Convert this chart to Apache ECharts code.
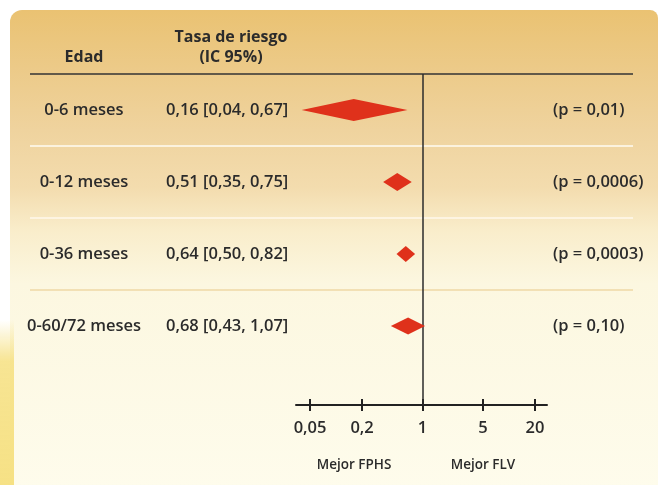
<!DOCTYPE html>
<html>
<head>
<meta charset="utf-8">
<style>
  html, body { margin: 0; padding: 0; background: #ffffff; }
  #chart { width: 660px; height: 485px; }
</style>
<script src="https://cdn.jsdelivr.net/npm/echarts@6/dist/echarts.min.js"></script>
</head>
<body>
<div id="chart"></div>
<script>
// Forest plot: hazard ratio by age window, log scale
const ages = ['0-6 meses', '0-12 meses', '0-36 meses', '0-60/72 meses'];
const hazardRatio = [0.16, 0.51, 0.64, 0.68];
const ciLow = [0.04, 0.35, 0.50, 0.43];
const ciHigh = [0.67, 0.75, 0.82, 1.07];
const pValues = ['0,01', '0,0006', '0,0003', '0,10'];
const tickValues = [0.05, 0.2, 1, 5, 20];

const FONT = '"Open Sans", "Noto Sans", sans-serif';
const INK = '#2b2b2b';
const RED = '#df311b';

const comma = v => String(v).replace('.', ',');
const fix2 = v => v.toFixed(2).replace('.', ',');

const hrLabels = hazardRatio.map((v, i) => `${fix2(v)} [${fix2(ciLow[i])}, ${fix2(ciHigh[i])}]`);
const pLabels = pValues.map(p => `(p = ${p})`);
const diamonds = hazardRatio.map((v, i) => [i, v, ciLow[i], ciHigh[i]]);

// half heights of each diamond glyph (styling only)
const diamondHalf = [11, 9, 8, 8.5];

const chart = echarts.init(document.getElementById('chart'), null, { renderer: 'canvas' });

const rowLabel = {
  fontFamily: FONT, fontWeight: 600, fontSize: 16.5, color: INK
};

const option = {
  animation: false,
  backgroundColor: 'transparent',
  graphic: [
    {
      type: 'rect', z: -10, silent: true,
      shape: { x: 10, y: 10, width: 648, height: 480, r: [12, 8, 0, 0] },
      style: {
        fill: new echarts.graphic.LinearGradient(0, 0, 0, 1, [
          { offset: 0, color: '#eac272' },
          { offset: 0.12, color: '#ecca88' },
          { offset: 0.25, color: '#efd39e' },
          { offset: 0.37, color: '#f3dcae' },
          { offset: 0.46, color: '#f9edcb' },
          { offset: 0.57, color: '#fcf7e0' },
          { offset: 1, color: '#fefcec' }
        ])
      }
    },
    {
      type: 'rect', z: -9, silent: true,
      shape: { x: 0, y: 320, width: 14, height: 165 },
      style: {
        fill: new echarts.graphic.LinearGradient(0, 0, 0, 1, [
          { offset: 0, color: 'rgba(245,222,120,0)' },
          { offset: 0.25, color: 'rgba(245,222,120,0.8)' },
          { offset: 1, color: 'rgba(245,222,120,0.9)' }
        ])
      }
    },
    {
      type: 'text', x: 84, y: 57,
      style: { text: 'Edad', align: 'center', verticalAlign: 'middle',
               font: `700 16px ${FONT}`, fill: INK }
    },
    {
      type: 'text', x: 231, y: 37,
      style: { text: 'Tasa de riesgo', align: 'center', verticalAlign: 'middle',
               font: `700 16px ${FONT}`, fill: INK }
    },
    {
      type: 'text', x: 231, y: 57,
      style: { text: '(IC 95%)', align: 'center', verticalAlign: 'middle',
               font: `700 16px ${FONT}`, fill: INK }
    },
    {
      type: 'text', x: 354, y: 465,
      style: { text: 'Mejor FPHS', align: 'center', verticalAlign: 'middle',
               font: `600 13.5px ${FONT}`, fill: INK }
    },
    {
      type: 'text', x: 483, y: 465,
      style: { text: 'Mejor FLV', align: 'center', verticalAlign: 'middle',
               font: `600 13.5px ${FONT}`, fill: INK }
    }
  ],
  grid: [
    // table rows (text columns and row separators)
    { left: 30, right: 27, top: 74, height: 288 },
    // forest plot area
    { left: 296, width: 251, top: 74, bottom: 80 }
  ],
  xAxis: [
    { gridIndex: 0, type: 'value', show: false, min: 0, max: 1 },
    {
      gridIndex: 1, type: 'log', min: 0.0344, max: 27.5, position: 'bottom',
      axisLine: { show: true, onZero: false, lineStyle: { color: '#222', width: 2 } },
      axisTick: { show: true, customValues: tickValues, length: 6,
                  lineStyle: { color: '#222', width: 2 } },
      axisLabel: { show: true, customValues: tickValues, margin: 15,
                   formatter: v => comma(v),
                   fontFamily: FONT, fontWeight: 600, fontSize: 16.5, color: INK },
      splitLine: { show: false }
    },
    {
      gridIndex: 1, type: 'log', min: 0.0344, max: 27.5, position: 'bottom',
      axisLine: { show: false, onZero: false },
      axisTick: { show: true, inside: true, customValues: tickValues, length: 6,
                  lineStyle: { color: '#222', width: 2 } },
      axisLabel: { show: false },
      splitLine: { show: false }
    }
  ],
  yAxis: [
    {
      gridIndex: 0, type: 'category', data: ages, inverse: true, position: 'left',
      offset: -84 + 30,
      axisLine: { show: false }, axisTick: { show: false },
      axisLabel: Object.assign({ align: 'center', margin: 0 }, rowLabel),
      splitLine: {
        show: true, showMaxLine: false,
        lineStyle: { color: ['#333333', '#fffbf2', '#fff9ec', '#efd9a6'], width: 1.6 }
      }
    },
    {
      gridIndex: 0, type: 'category', data: hrLabels, inverse: true, position: 'left',
      offset: -136,
      axisLine: { show: false }, axisTick: { show: false }, splitLine: { show: false },
      axisLabel: Object.assign({ align: 'left', margin: 0 }, rowLabel)
    },
    {
      gridIndex: 0, type: 'category', data: pLabels, inverse: true, position: 'right',
      offset: -80,
      axisLine: { show: false }, axisTick: { show: false }, splitLine: { show: false },
      axisLabel: Object.assign({ align: 'left', margin: 0 }, rowLabel)
    },
    {
      gridIndex: 1, type: 'value', inverse: true, min: -0.5, max: 4.097, show: false
    }
  ],
  series: [
    {
      type: 'custom',
      xAxisIndex: 1, yAxisIndex: 3,
      data: diamonds,
      encode: { x: [1, 2, 3], y: 0 },
      renderItem: (params, api) => {
        const row = api.value(0);
        const est = api.coord([api.value(1), row]);
        const lo = api.coord([api.value(2), row]);
        const hi = api.coord([api.value(3), row]);
        const h = diamondHalf[params.dataIndex];
        return {
          type: 'polygon',
          shape: { points: [[lo[0], lo[1]], [est[0], est[1] - h], [hi[0], hi[1]], [est[0], est[1] + h]] },
          style: { fill: RED }
        };
      },
      markLine: {
        silent: true, symbol: 'none',
        label: { show: false },
        lineStyle: { color: INK, width: 1.5, type: 'solid' },
        data: [{ xAxis: 1 }]
      },
      z: 5
    }
  ]
};

chart.setOption(option);
</script>
</body>
</html>
